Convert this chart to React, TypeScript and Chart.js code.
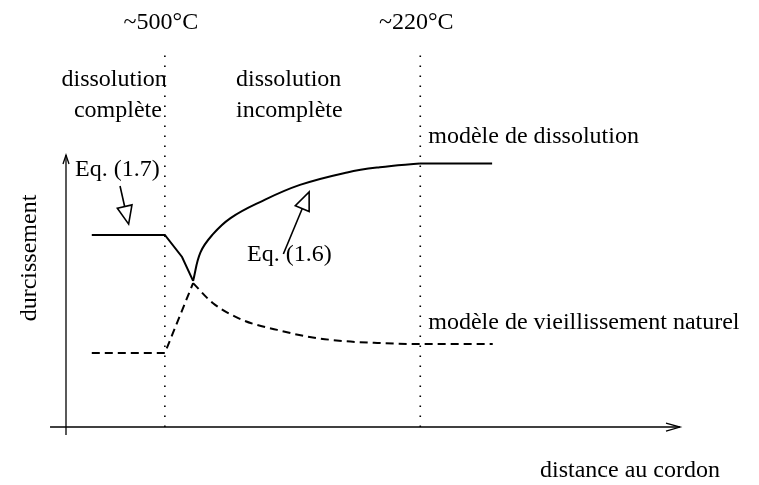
import React, { useEffect, useRef } from "react";
import { Chart, registerables } from "chart.js";

Chart.register(...registerables);

// Distance (0..100 arbitrary units) and hardening (0..100 arbitrary units)
const plateauSolidX = [4.2, 16.1, 18.9, 20.7];
const plateauSolidY = [70.6, 70.6, 62.5, 53.7];

const dissolutionX = [20.7, 21.9, 23.9, 26.8, 31.6, 38.1, 45.8, 51.1, 57.65];
const dissolutionY = [53.7, 64.2, 70.8, 76.8, 82.7, 89.0, 93.6, 95.5, 96.9];
const dissolutionFlatX = [57.65, 69.4];
const dissolutionFlatY = [96.9, 96.9];

const plateauDashedX = [4.2, 16.1, 20.7];
const plateauDashedY = [27.2, 27.2, 52.9];

const agingX = [20.7, 23.9, 28.8, 34.4, 39.7, 45.1, 50.7, 57.2, 69.5];
const agingY = [52.9, 45.6, 39.3, 35.7, 33.1, 31.6, 30.9, 30.5, 30.5];

const boundaryX = [16.1, 57.7];
const boundaryY = [0, 138.6];
const boundaryTemps = ["~500°C", "~220°C"];

const xTitle = "distance au cordon";
const yTitle = "durcissement";

const pts = (xs: number[], ys: number[]) => xs.map((x, i) => ({ x, y: ys[i] }));

const FONT = "24px 'Liberation Serif', 'Times New Roman', serif";

function openHead(x1: number, y1: number, x2: number, y2: number, len: number, half: number) {
  const a = Math.atan2(y2 - y1, x2 - x1);
  const bx = x2 - len * Math.cos(a);
  const by = y2 - len * Math.sin(a);
  const nx = -Math.sin(a) * half;
  const ny = Math.cos(a) * half;
  return [
    [bx + nx, by + ny],
    [x2, y2],
    [bx - nx, by - ny],
  ];
}

const decor = {
  id: "decor",
  afterDraw(chart: any) {
    const ctx: CanvasRenderingContext2D = chart.ctx;
    const xs = chart.scales.x;
    const ys = chart.scales.y;
    const X = (v: number) => xs.getPixelForValue(v);
    const Y = (v: number) => ys.getPixelForValue(v);
    ctx.save();
    ctx.strokeStyle = "#000";
    ctx.fillStyle = "#000";
    ctx.lineWidth = 1.3;
    ctx.setLineDash([]);
    // y axis
    const x0 = X(0), y0 = Y(0);
    ctx.beginPath();
    ctx.moveTo(x0, y0 + 8);
    ctx.lineTo(x0, Y(100));
    ctx.stroke();
    ctx.beginPath();
    ctx.moveTo(x0 - 3, Y(100) + 9);
    ctx.lineTo(x0, Y(100));
    ctx.lineTo(x0 + 3, Y(100) + 9);
    ctx.stroke();
    // x axis
    ctx.beginPath();
    ctx.moveTo(X(-2.6), y0);
    ctx.lineTo(X(100), y0);
    ctx.stroke();
    ctx.beginPath();
    ctx.moveTo(X(100) - 14, y0 - 4);
    ctx.lineTo(X(100), y0);
    ctx.lineTo(X(100) - 14, y0 + 4);
    ctx.stroke();

    // annotation arrows (open heads)
    const drawArrow = (x1: number, y1: number, x2: number, y2: number) => {
      ctx.lineWidth = 1.6;
      const h = openHead(x1, y1, x2, y2, 18, 7.5);
      const a = Math.atan2(y2 - y1, x2 - x1);
      ctx.beginPath();
      ctx.moveTo(x1, y1);
      ctx.lineTo(x2 - 16 * Math.cos(a), y2 - 16 * Math.sin(a));
      ctx.stroke();
      ctx.beginPath();
      ctx.moveTo(h[0][0], h[0][1]);
      ctx.lineTo(h[1][0], h[1][1]);
      ctx.lineTo(h[2][0], h[2][1]);
      ctx.closePath();
      ctx.fillStyle = "#fff";
      ctx.fill();
      ctx.stroke();
      ctx.fillStyle = "#000";
    };
    drawArrow(X(8.8), Y(88.6), X(10.2), Y(74.6));
    drawArrow(X(35.4), Y(63.6), X(39.6), Y(86.4));

    // texts
    ctx.font = FONT;
    ctx.textBaseline = "alphabetic";
    ctx.textAlign = "center";
    boundaryX.forEach((bx, i) => ctx.fillText(boundaryTemps[i], X(bx) - 4, 29));
    ctx.textAlign = "right";
    ctx.fillText("dissolution", X(boundaryX[0]) + 2, 86);
    ctx.fillText("complète", X(boundaryX[0]) - 3, 117);
    ctx.textAlign = "left";
    ctx.fillText("dissolution", 236, 86);
    ctx.fillText("incomplète", 236, 117);
    ctx.fillText("modèle de dissolution", X(boundaryX[1]) + 8, 143);
    ctx.fillText("modèle de vieillissement naturel", X(boundaryX[1]) + 8, 329);
    ctx.fillText("Eq. (1.7)", 75, 176);
    ctx.fillText("Eq. (1.6)", 247, 261);
    ctx.fillText(xTitle, 540, 477);
    ctx.save();
    ctx.translate(36, 258);
    ctx.rotate(-Math.PI / 2);
    ctx.textAlign = "center";
    ctx.fillText(yTitle, 0, 0);
    ctx.restore();
    ctx.restore();
  },
};

export default function App() {
  const ref = useRef<HTMLCanvasElement>(null);
  useEffect(() => {
    if (!ref.current) return;
    const solid = { borderColor: "#000", borderWidth: 2, pointRadius: 0, fill: false, clip: false as any };
    const dashed = { ...solid, borderDash: [8, 5] };
    const chart = new Chart(ref.current, {
      type: "line",
      data: {
        datasets: [
          ...boundaryX.map((bx) => ({
            data: pts([bx, bx], boundaryY),
            borderColor: "#000",
            borderWidth: 1.6,
            borderDash: [1.6, 8.4],
            pointRadius: 0,
            clip: false as any,
          })),
          { ...solid, data: pts(plateauSolidX, plateauSolidY), tension: 0 },
          { ...solid, data: pts(dissolutionX, dissolutionY), tension: 0.4 },
          { ...solid, data: pts(dissolutionFlatX, dissolutionFlatY), tension: 0 },
          { ...dashed, data: pts(plateauDashedX, plateauDashedY), tension: 0 },
          { ...dashed, data: pts(agingX, agingY), cubicInterpolationMode: "monotone" as const },
        ],
      },
      options: {
        animation: false,
        responsive: false,
        devicePixelRatio: 1,
        layout: { padding: { left: 66, right: 79, top: 155, bottom: 58 } },
        plugins: { legend: { display: false }, tooltip: { enabled: false } },
        scales: {
          x: { type: "linear", min: 0, max: 100, display: false },
          y: { type: "linear", min: 0, max: 100, display: false },
        },
      },
      plugins: [decor],
    });
    return () => chart.destroy();
  }, []);
  return (
    <div style={{ position: "fixed", left: 0, top: 0, width: 759, height: 485, background: "#fff" }}>
      <canvas ref={ref} width={759} height={485} />
    </div>
  );
}
